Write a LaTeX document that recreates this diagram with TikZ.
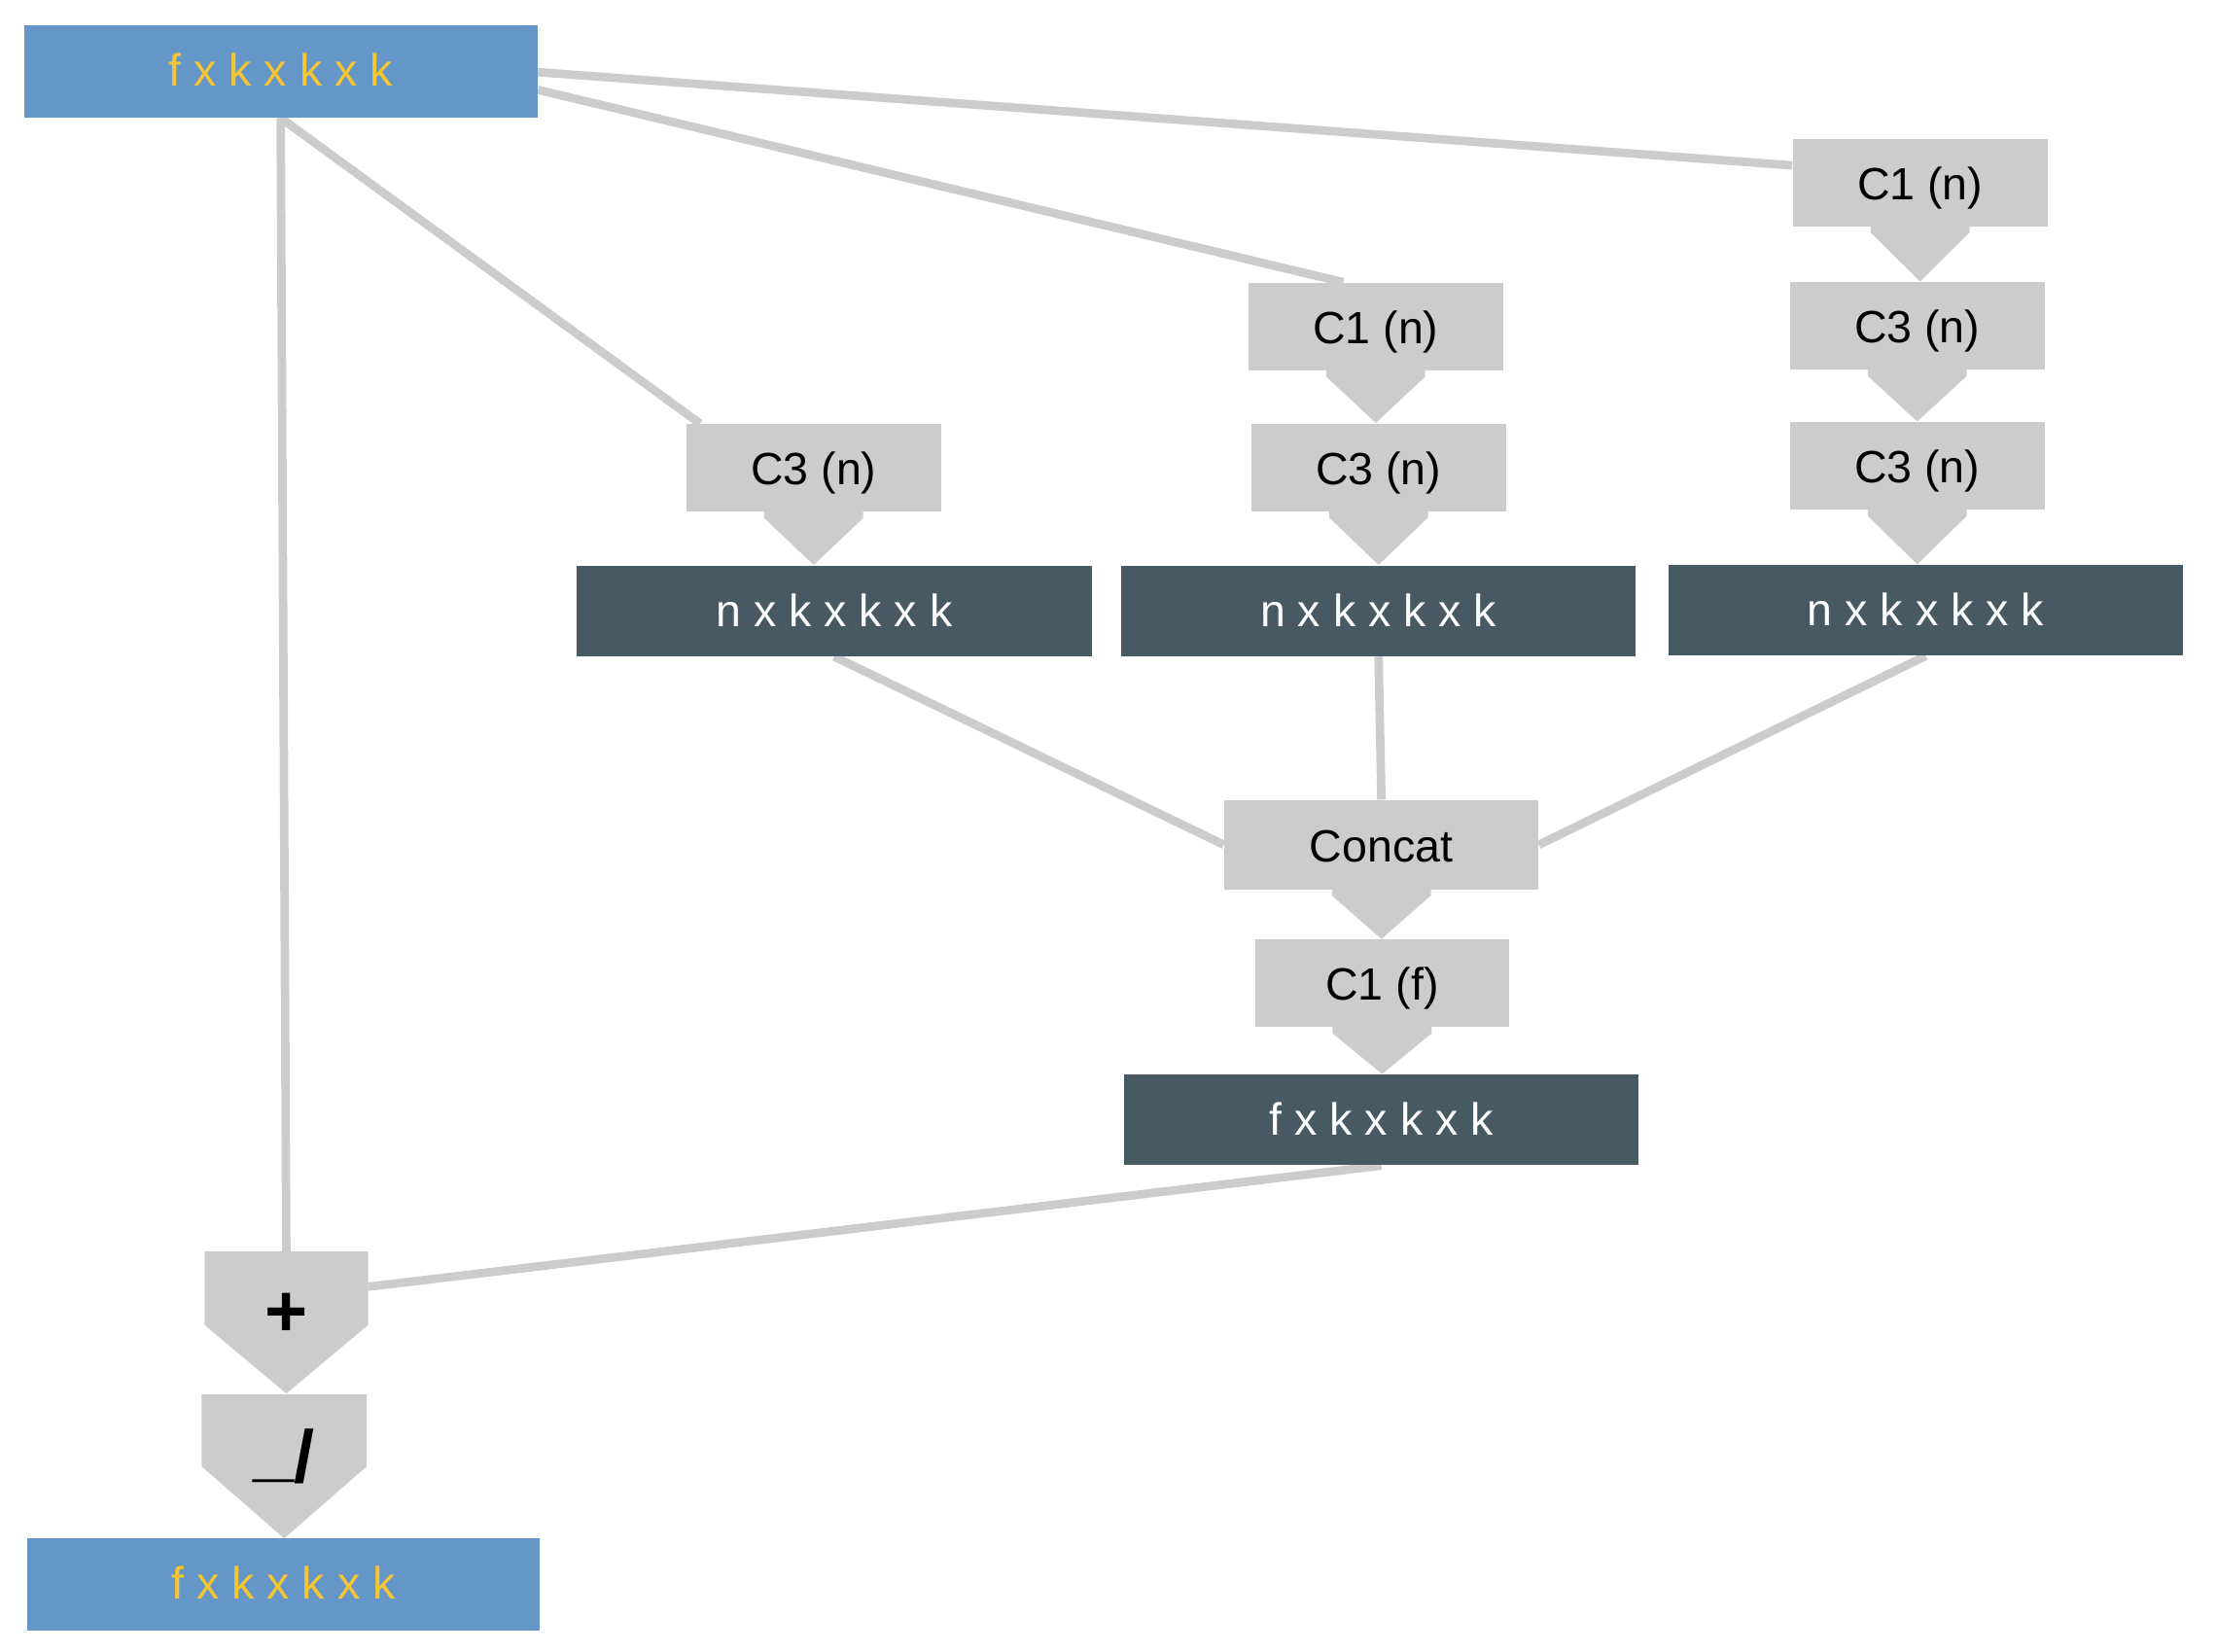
\documentclass[tikz,border=0pt]{standalone}
\usepackage{fontspec}
\setmainfont{Liberation Sans}
\usetikzlibrary{calc,backgrounds}
\definecolor{cblue}{HTML}{6497C8}
\definecolor{cyellow}{HTML}{F6C532}
\definecolor{cdark}{HTML}{475A63}
\definecolor{cgray}{HTML}{CCCCCC}
\definecolor{cline}{HTML}{CCCCCC}
\newcommand\mychev[2]{\fill[cgray] ($(#1.south)+(-35,-1)$) -- ($(#1.south)+(-35,4)$) -- (#1.south |- #2.north) -- ($(#1.south)+(35,4)$) -- ($(#1.south)+(35,-1)$) -- cycle;}
\begin{document}
\begin{tikzpicture}[x=0.5pt,y=-0.5pt,
  every node/.style={inner sep=0pt},
  txt/.style={font=\fontsize{16}{19}\selectfont},
  bbox/.style={txt,fill=cblue,text=cyellow,minimum width=181.5pt,minimum height=32.5pt,text height=1.3em,text depth=0.24em},
  dbox/.style={txt,fill=cdark,text=white,minimum width=182pt,minimum height=32pt,text height=1.35em,text depth=0.24em},
  gbox/.style={txt,fill=cgray,text=black,minimum width=90pt,minimum height=31pt,text height=1.45em,text depth=0.24em},
  pent/.style={font=\fontsize{26}{30}\selectfont\bfseries,text=black},
  lnk/.style={draw=cline,line width=3pt}]
\useasboundingbox (0,0) rectangle (1568,1168);

% input
\node[bbox] (in) at (198.5,50.5) {f x k x k x k};
% right branch
\node[gbox] (C1r) at (1358,129) {C1 (n)};
\node[gbox] (C3ra) at (1356,230.5) {C3 (n)};
\node[gbox] (C3rb) at (1356,329.5) {C3 (n)};
\node[dbox] (darkR) at (1362,431.5) {n x k x k x k};
% middle branch
\node[gbox] (C1m) at (973,231) {C1 (n)};
\node[gbox] (C3m) at (975,330.5) {C3 (n)};
\node[dbox] (darkM) at (975,432) {n x k x k x k};
% left branch
\node[gbox] (C3l) at (575.5,331) {C3 (n)};
\node[dbox] (darkL) at (590,432) {n x k x k x k};
% merge
\node[gbox,minimum width=111pt,minimum height=31.5pt] (concat) at (977,597.5) {Concat};
\node[gbox] (C1f) at (977.5,695.5) {C1 (f)};
\node[dbox] (darkF) at (977,792) {f x k x k x k};
% residual
\node[pent,minimum width=57.5pt,minimum height=44.5pt] (plus) at (202.5,930) {+};
\node[pent,minimum width=58pt,minimum height=43.5pt] (relu) at (201,1030) {\raisebox{0.12em}{\_}/};
\node[bbox] (out) at (200.5,1120.5) {f x k x k x k};

% chevrons
\mychev{C1r}{C3ra}
\mychev{C3ra}{C3rb}
\mychev{C3rb}{darkR}
\mychev{C1m}{C3m}
\mychev{C3m}{darkM}
\mychev{C3l}{darkL}
\mychev{concat}{C1f}
\mychev{C1f}{darkF}

\begin{scope}[on background layer]
\draw[lnk] ($(in.east)+(0,0.5)$) -- ($(C1r.west)+(0,-12)$);
\draw[lnk] ($(in.east)+(0,13)$) -- ($(C1m.north)+(-23,0)$);
\draw[lnk] (in.south) -- ($(C3l.north west)+(10,0)$);
\draw[lnk] (in.south) -- (plus.north);
\draw[lnk] (darkL.south) -- (concat.west);
\draw[lnk] (darkM.south) -- (concat.north);
\draw[lnk] (darkR.south) -- (concat.east);
\draw[lnk] (darkF.south) -- ($(plus.north east)+(0,25)$);
\fill[cgray] (plus.north west) -- (plus.north east) -- ($(plus.north east)+(0,52)$) -- ($(plus.north)+(0,100.5)$) -- ($(plus.north west)+(0,52)$) -- cycle;
\fill[cgray] (relu.north west) -- (relu.north east) -- ($(relu.north east)+(0,51)$) -- ($(relu.north)+(0,102)$) -- ($(relu.north west)+(0,51)$) -- cycle;
\end{scope}
\end{tikzpicture}
\end{document}
